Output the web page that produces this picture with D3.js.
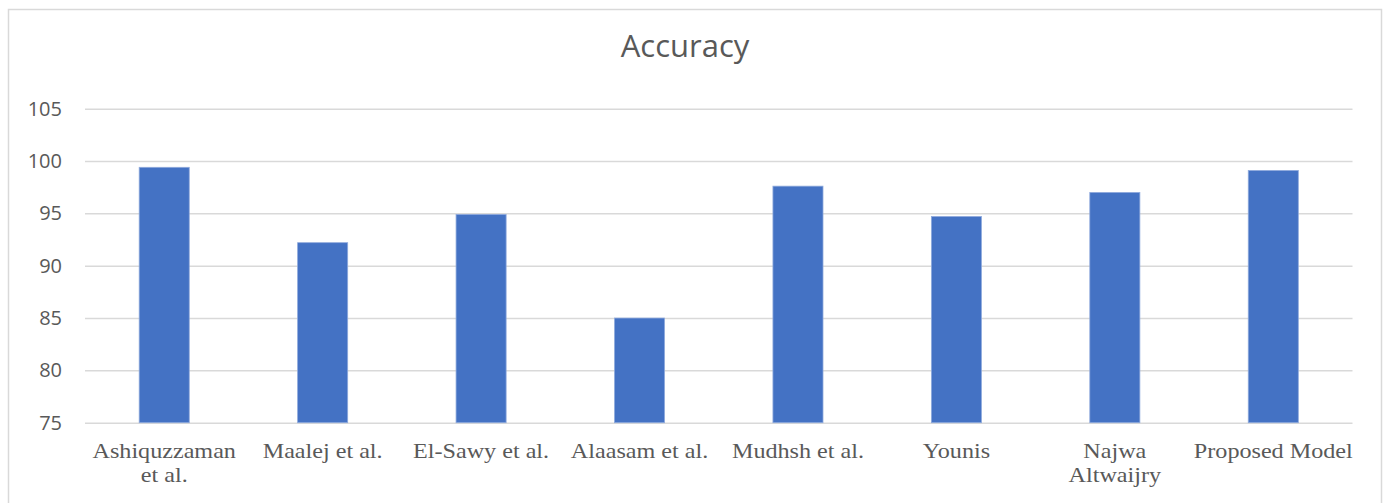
<!DOCTYPE html>
<html>
<head>
<meta charset="utf-8">
<script src="https://cdn.jsdelivr.net/npm/d3@7"></script>
<style>
  body { margin: 0; background: #fff; }
  svg { display: block; }
</style>
</head>
<body>
<svg id="grafico" width="1383" height="503"></svg>
<script>
// dados do grafico
var categorias = [["Ashiquzzaman", "et al."], ["Maalej et al."], ["El-Sawy et al."], ["Alaasam et al."],
                  ["Mudhsh et al."], ["Younis"], ["Najwa", "Altwaijry"], ["Proposed Model"]];
var valores = [99.4, 92.2, 94.9, 85.0, 97.6, 94.7, 97.0, 99.1];
var ticksY = [75, 80, 85, 90, 95, 100, 105];
var titulo = "Accuracy";

var svg = d3.select("#grafico");
var corTexto = "#595959";

// moldura do grafico
svg.append("rect")
    .attr("x", 8.5).attr("y", 9.5)
    .attr("width", 1373).attr("height", 510)
    .attr("fill", "#fff")
    .attr("stroke", "#d9d9d9")
    .attr("stroke-width", 1.5);

var x = d3.scaleBand()
    .domain(d3.range(categorias.length))
    .range([85, 1352.5])
    .paddingInner(0.684)
    .paddingOuter(0.342);

var y = d3.scaleLinear()
    .domain([75, 105])
    .range([422.7, 108.7]);

// linhas de grade + rotulos Y
var eixoY = svg.append("g")
    .attr("transform", "translate(85,0)")
    .call(d3.axisLeft(y).tickValues(ticksY).tickSize(-1267.5).tickPadding(23));
eixoY.select(".domain").remove();
eixoY.selectAll(".tick line")
    .attr("stroke", "#d9d9d9")
    .attr("stroke-width", 1.5);
eixoY.selectAll(".tick text")
    .attr("fill", corTexto)
    .style("font-family", "'Open Sans', sans-serif")
    .style("font-size", "20px");

// barras
svg.append("g").selectAll("rect")
    .data(valores)
    .enter().append("rect")
    .attr("x", function(d, i) { return x(i); })
    .attr("y", function(d) { return y(d); })
    .attr("width", x.bandwidth())
    .attr("height", function(d) { return y(75) - y(d); })
    .attr("fill", "#4472c4")
    .attr("stroke", "#8faadc")
    .attr("stroke-width", 0.8);

// rotulos X
var rotulos = svg.append("g").selectAll("g")
    .data(categorias)
    .enter().append("g")
    .attr("transform", function(d, i) {
        return "translate(" + (x(i) + x.bandwidth() / 2) + ",458) scale(1.15,1)";
    });
rotulos.each(function(d) {
    var g = d3.select(this);
    d.forEach(function(linha, k) {
        g.append("text")
            .attr("y", k * 24)
            .attr("text-anchor", "middle")
            .attr("fill", corTexto)
            .style("font-family", "'Liberation Serif', 'Times New Roman', serif")
            .style("font-size", "21px")
            .text(linha);
    });
});

// titulo
svg.append("text")
    .attr("x", 685)
    .attr("y", 57)
    .attr("text-anchor", "middle")
    .attr("fill", corTexto)
    .style("font-family", "'Open Sans', sans-serif")
    .style("font-size", "31px")
    .text(titulo);
</script>
</body>
</html>
